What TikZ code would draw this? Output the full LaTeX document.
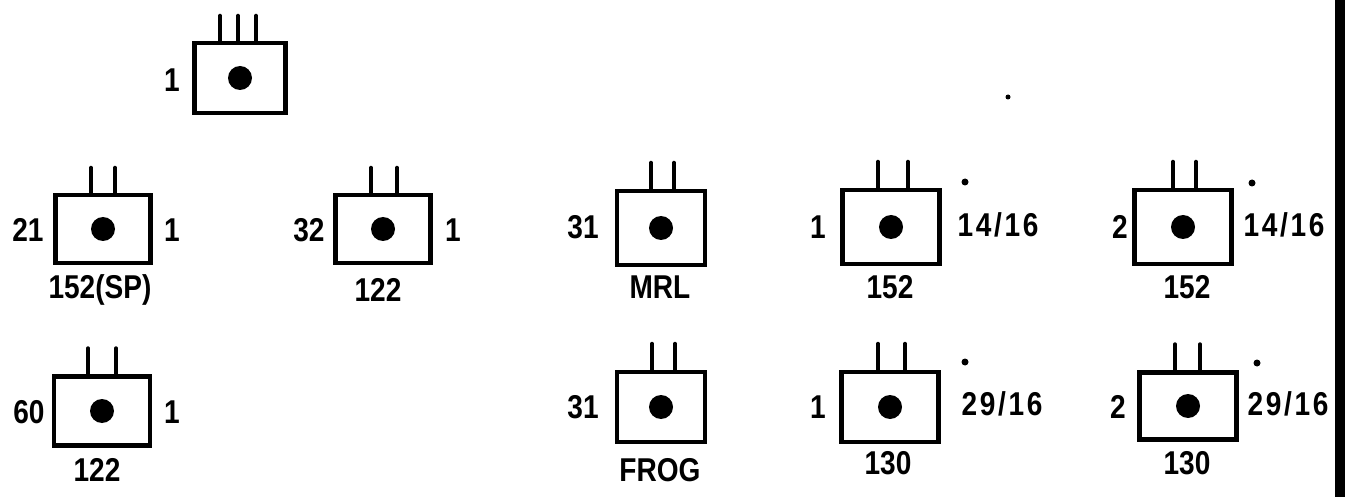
\documentclass[tikz,border=0pt]{standalone}
\usepackage{fontspec}
\setmainfont{Liberation Sans}[FakeStretch=0.85]
\begin{document}
\begin{tikzpicture}[x=1pt,y=-1pt,
  box/.style={draw,line width=4.5pt,inner sep=0pt},
  pinline/.style={line width=4pt,line cap=round},
  bigdot/.style={circle,fill=black,inner sep=0pt,minimum size=24pt},
  tick/.style={circle,fill=black,inner sep=0pt,minimum size=7pt},
  lbl/.style={inner sep=0pt,font=\fontsize{33}{35}\selectfont\bfseries},
  wlbl/.style={lbl,font=\fontsize{33}{35}\selectfont\bfseries\addfontfeatures{LetterSpace=8}}]
\useasboundingbox (0,0) rectangle (1345,497);
\fill[black] (1335,0) rectangle (1345,497);
% top unit
\node[box,minimum width=91pt,minimum height=70pt] (T) at (240,78) {};
\node[bigdot] (Td) at (T) {};
\draw[pinline] ([xshift=-20pt]T.north) -- ++(0,-25);
\draw[pinline] ([xshift=-2pt]T.north) -- ++(0,-25);
\draw[pinline] ([xshift=16pt]T.north) -- ++(0,-25);
\node[lbl] (Tl) at (172,80) {1};
% unit A
\node[box,minimum width=95pt,minimum height=68pt] (A) at (103,229) {};
\node[bigdot] (Ad) at (A) {};
\draw[pinline] ([xshift=-12pt]A.north) -- ++(0,-25);
\draw[pinline] ([xshift=12pt]A.north) -- ++(0,-25);
\node[lbl] (Al) at (28,230) {21};
\node[lbl] (Ar) at (172,230) {1};
\node[lbl] (Ab) at (100,290) {152(SP)};
% unit B
\node[box,minimum width=95pt,minimum height=68pt] (B) at (383,229) {};
\node[bigdot] (Bd) at (B) {};
\draw[pinline] ([xshift=-12pt]B.north) -- ++(0,-25);
\draw[pinline] ([xshift=14pt]B.north) -- ++(0,-25);
\node[lbl] (Bl) at (309,230) {32};
\node[lbl] (Br) at (453,230) {1};
\node[lbl] (Bb) at (378,290) {122};
% unit C
\node[box,minimum width=96pt,minimum height=69pt] (C) at (102,411) {};
\node[bigdot] (Cd) at (C) {};
\draw[pinline] ([xshift=-14pt]C.north) -- ++(0,-26);
\draw[pinline] ([xshift=14pt]C.north) -- ++(0,-26);
\node[lbl] (Cl) at (29,412) {60};
\node[lbl] (Cr) at (172,412) {1};
\node[lbl] (Cb) at (97,470) {122};
% unit MRL
\node[box,minimum width=88pt,minimum height=74pt] (M) at (661,228) {};
\node[bigdot] (Md) at (M) {};
\draw[pinline] ([xshift=-10pt]M.north) -- ++(0,-26);
\draw[pinline] ([xshift=13pt]M.north) -- ++(0,-26);
\node[lbl] (Ml) at (583,227) {31};
\node[lbl] (Mb) at (660,287) {MRL};
% unit 152a
\node[box,minimum width=97pt,minimum height=74pt] (P) at (891,227) {};
\node[bigdot] (Pd) at (P) {};
\draw[pinline] ([xshift=-13pt]P.north) -- ++(0,-26);
\draw[pinline] ([xshift=17pt]P.north) -- ++(0,-26);
\node[lbl] (Pl) at (818,227) {1};
\node[wlbl] (Pr) at (998,225) {14/16};
\node[tick] (Pt) at (965,182) {};
\node[lbl] (Pb) at (890,287) {152};
% unit 152b
\node[box,minimum width=97pt,minimum height=74pt] (Q) at (1183,227) {};
\node[bigdot] (Qd) at (Q) {};
\draw[pinline] ([xshift=-10pt]Q.north) -- ++(0,-26);
\draw[pinline] ([xshift=13pt]Q.north) -- ++(0,-26);
\node[lbl] (Ql) at (1120,227) {2};
\node[wlbl] (Qr) at (1284,225) {14/16};
\node[tick] (Qt) at (1252,183) {};
\node[lbl] (Qb) at (1187,287) {152};
% unit FROG
\node[box,minimum width=88pt,minimum height=70pt] (F) at (661,407) {};
\node[bigdot] (Fd) at (F) {};
\draw[pinline] ([xshift=-9pt]F.north) -- ++(0,-26);
\draw[pinline] ([xshift=14pt]F.north) -- ++(0,-26);
\node[lbl] (Fl) at (583,407) {31};
\node[lbl] (Fb) at (660,470) {FROG};
% unit 130a
\node[box,minimum width=97pt,minimum height=70pt] (R) at (890,407) {};
\node[bigdot] (Rd) at (R) {};
\draw[pinline] ([xshift=-12pt]R.north) -- ++(0,-26);
\draw[pinline] ([xshift=15pt]R.north) -- ++(0,-26);
\node[lbl] (Rl) at (818,407) {1};
\node[wlbl] (Rr) at (1002,404) {29/16};
\node[tick] (Rt) at (965,362) {};
\node[lbl] (Rb) at (888,463) {130};
% unit 130b
\node[box,minimum width=97pt,minimum height=67pt] (S) at (1188,406) {};
\node[bigdot] (Sd) at (S) {};
\draw[pinline] ([xshift=-13pt]S.north) -- ++(0,-26);
\draw[pinline] ([xshift=12pt]S.north) -- ++(0,-26);
\node[lbl] (Sl) at (1118,407) {2};
\node[wlbl] (Sr) at (1288,404) {29/16};
\node[tick] (St) at (1257,363) {};
\node[lbl] (Sb) at (1187,463) {130};
% stray mark
\node[circle,fill=black,inner sep=0pt,minimum size=5pt] (stray) at (1008,97) {};
\end{tikzpicture}
\end{document}
